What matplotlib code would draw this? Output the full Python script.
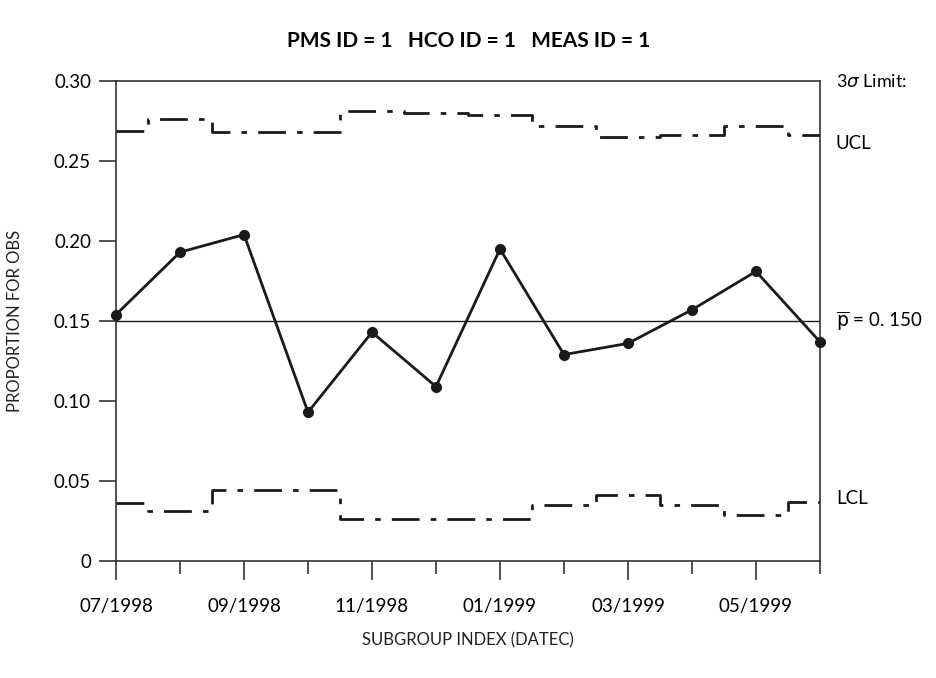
import numpy as np
import matplotlib.pyplot as plt

plt.rcParams['font.family'] = ['Lato', 'DejaVu Sans']

# p-chart data, one subgroup per month
months = ['07/1998', '08/1998', '09/1998', '10/1998', '11/1998', '12/1998',
          '01/1999', '02/1999', '03/1999', '04/1999', '05/1999', '06/1999']
proportion = [0.154, 0.193, 0.204, 0.093, 0.143, 0.109,
              0.195, 0.129, 0.136, 0.157, 0.181, 0.137]
ucl = [0.269, 0.276, 0.268, 0.268, 0.281, 0.280,
       0.279, 0.272, 0.265, 0.266, 0.272, 0.266]
lcl = [0.0365, 0.031, 0.0445, 0.0445, 0.026, 0.026,
       0.026, 0.035, 0.041, 0.035, 0.029, 0.037]
p_bar = 0.150
y_ticks = [0, 0.05, 0.10, 0.15, 0.20, 0.25, 0.30]
y_labels = ['0', '0.05', '0.10', '0.15', '0.20', '0.25', '0.30']

x = np.arange(len(months))

fig = plt.figure(figsize=(9.37, 6.78), dpi=100)
ax = fig.add_axes([0.1238, 0.1726, 0.7513, 0.7079])

ax.plot(x, ucl, drawstyle='steps-mid', color='#1a1a1a', lw=2.0,
        dashes=(10, 4, 2, 4))
ax.plot(x, lcl, drawstyle='steps-mid', color='#1a1a1a', lw=2.0,
        dashes=(10, 4, 2, 4))
ax.axhline(p_bar, color='#1a1a1a', lw=1.0)
ax.plot(x, proportion, color='#1a1a1a', lw=2.0, marker='o', ms=7,
        clip_on=False, zorder=5)

ax.set_xlim(0, len(months) - 1)
ax.set_ylim(0, 0.30)

# labelled ticks every other month, short ticks in between
ax.set_xticks(x[::2])
ax.set_xticklabels(months[::2], fontsize=13.5)
ax.set_xticks(x[1::2], minor=True)
ax.tick_params(axis='x', which='major', length=14, width=1.2, pad=13,
               color='#333333')
ax.tick_params(axis='x', which='minor', length=9, width=1.2, color='#333333')
ax.set_yticks(y_ticks)
ax.set_yticklabels(y_labels, fontsize=13.5)
ax.tick_params(axis='y', length=12, width=1.2, pad=6, color='#333333')

for s in ax.spines.values():
    s.set_color('#333333')
    s.set_linewidth(1.2)

ax.set_xlabel('SUBGROUP INDEX (DATEC)', fontsize=12, labelpad=12, color='#222222')
ax.set_ylabel('PROPORTION FOR OBS', fontsize=12, labelpad=22, color='#222222')
fig.suptitle('PMS ID = 1   HCO ID = 1   MEAS ID = 1', fontsize=15,
             fontweight='bold', y=0.955, x=0.5)

# labels on the right side
tx = len(months) - 1 + 0.25
ax.text(tx, 0.30, r'3$\sigma$ Limit:', fontsize=13, va='center', ha='left',
        clip_on=False)
ax.text(tx, ucl[-1] - 0.005, 'UCL', fontsize=13.5, va='center', ha='left')
ax.text(tx, p_bar, r'$\overline{\mathrm{p}}$ = 0. 150', fontsize=13.5,
        va='center', ha='left')
ax.text(tx, lcl[-1] + 0.002, 'LCL', fontsize=13.5, va='center', ha='left')

fig.savefig('out.png', dpi=100)
